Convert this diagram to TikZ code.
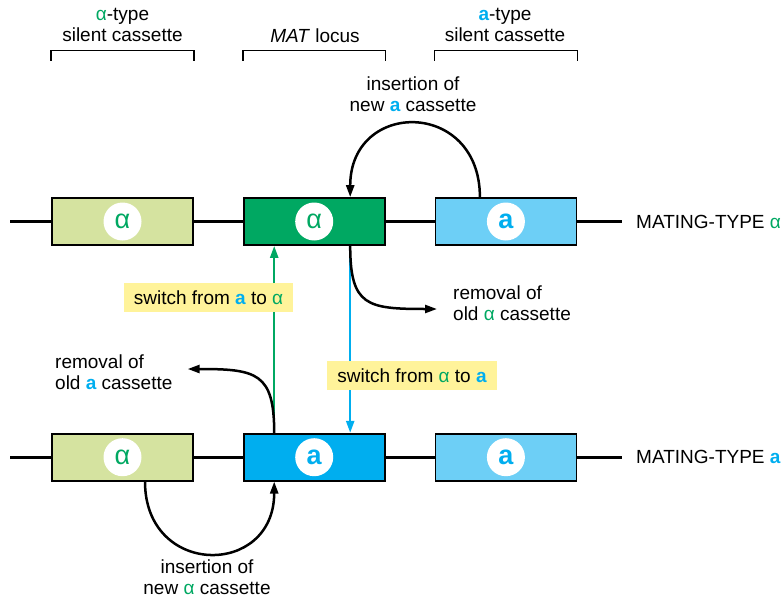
\documentclass[tikz,border=0pt]{standalone}
\usepackage{fontspec}
\setmainfont{Liberation Sans}
\usetikzlibrary{positioning,arrows.meta}

\definecolor{agreen}{HTML}{00A862}
\definecolor{alpale}{HTML}{D5E3A0}
\definecolor{ablue}{HTML}{00AEEF}
\definecolor{apale}{HTML}{6DCFF6}
\definecolor{tagyellow}{HTML}{FFF39A}

\newcommand{\alfa}{\textcolor{agreen}{α}}
\newcommand{\bolda}{\textcolor{ablue}{\bfseries a}}

\begin{document}
\begin{tikzpicture}[x=1pt, y=-1pt, font=\fontsize{19}{21}\selectfont,
  box/.style = {draw, line width=1.7pt, minimum width=141pt, minimum height=47pt, inner sep=0pt,
    font=\fontsize{27}{27}\selectfont,
    path picture={\fill[white] (path picture bounding box.center) circle (19pt);}},
  dna/.style = {line width=3pt},
  move/.style = {line width=2.5pt, -{Triangle[length=12pt,width=8pt]}},
  switch/.style = {line width=2.3pt, -{Triangle[length=12pt,width=8pt]}},
  tag/.style = {fill=tagyellow, minimum height=29pt, inner xsep=10pt},
  txt/.style = {align=center, inner sep=0pt},
  bracket/.style = {line width=1.5pt}]
\useasboundingbox (0,0) rectangle (783,599);

\node[box, fill=alpale] (alpha1) at (122.5,221.5) {\textcolor{agreen}{α}};
\node[box, fill=agreen] (mat1) [right=49pt of alpha1] {\textcolor{agreen}{α}};
\node[box, fill=apale] (a1) [right=49pt of mat1] {\textcolor{ablue}{\bfseries a}};
\node[box, fill=alpale] (alpha2) [below=187pt of alpha1] {\textcolor{agreen}{α}};
\node[box, fill=ablue] (mat2) [right=49pt of alpha2] {\textcolor{ablue}{\bfseries a}};
\node[box, fill=apale] (a2) [right=49pt of mat2] {\textcolor{ablue}{\bfseries a}};

\coordinate (l1) at (10,221.5);
\coordinate (r1) at (622,221.5);
\coordinate (l2) at (l1 |- alpha2);
\coordinate (r2) at (r1 |- alpha2);
\draw[dna] (l1) -- (alpha1) (alpha1) -- (mat1) (mat1) -- (a1) (a1) -- (r1);
\draw[dna] (l2) -- (alpha2) (alpha2) -- (mat2) (mat2) -- (a2) (a2) -- (r2);

\node[txt, anchor=west] (mt1) [right=14pt of r1] {MATING-TYPE \alfa};
\node[txt, anchor=west] (mt2) [right=14pt of r2] {MATING-TYPE \bolda};

\coordinate (bk) at (0,61);
\coordinate (bt) at (0,50.5);
\draw[bracket] (alpha1.west |- bk) |- (alpha1.east |- bt) -- (alpha1.east |- bk);
\draw[bracket] (mat1.west |- bk) |- (mat1.east |- bt) -- (mat1.east |- bk);
\draw[bracket] (a1.west |- bk) |- (a1.east |- bt) -- (a1.east |- bk);
\node[txt] (h1) at (122.5,25) {\alfa-type\\silent cassette};
\node[txt] (h2) at (315,36) {\textit{MAT} locus};
\node[txt] (h3) at (505,25) {\bolda-type\\silent cassette};

\node[txt] (ins1) at (413,94.5) {insertion of\\new \bolda{} cassette};
\node[txt, align=left, anchor=west] (rem1) at (453,303) {removal of\\old \alfa{} cassette};
\node[txt, align=left, anchor=west] (rem2) at (55,372.5) {removal of\\old \bolda{} cassette};
\node[txt] (ins2) at (207,577) {insertion of\\new \alfa{} cassette};

\draw[switch, agreen] ([xshift=-40pt]mat2.north) -- ([xshift=-40pt]mat1.south);
\draw[switch, ablue] ([xshift=36pt]mat1.south) -- ([xshift=36pt]mat2.north);
\draw[move] ([xshift=-26pt]a1.north) .. controls +(0,-98) and +(0,-98) .. ([xshift=36pt]mat1.north);
\draw[move] ([xshift=36pt]mat1.south) .. controls +(0,60) and +(-70,0) .. ([xshift=-16pt,yshift=-6pt]rem1.west);
\draw[move] ([xshift=-40pt]mat2.north) .. controls +(0,-60) and +(69,0) .. ([xshift=15pt,yshift=3.5pt]rem2.east);
\draw[move] ([xshift=22.5pt]alpha2.south) .. controls +(0,96) and +(0,96) .. ([xshift=-40pt]mat2.south);

\node[tag] (sw1) at (208.5,297.5) {switch from \bolda{} to \alfa};
\node[tag] (sw2) at (412,375.5) {switch from \alfa{} to \bolda};
\end{tikzpicture}
\end{document}
